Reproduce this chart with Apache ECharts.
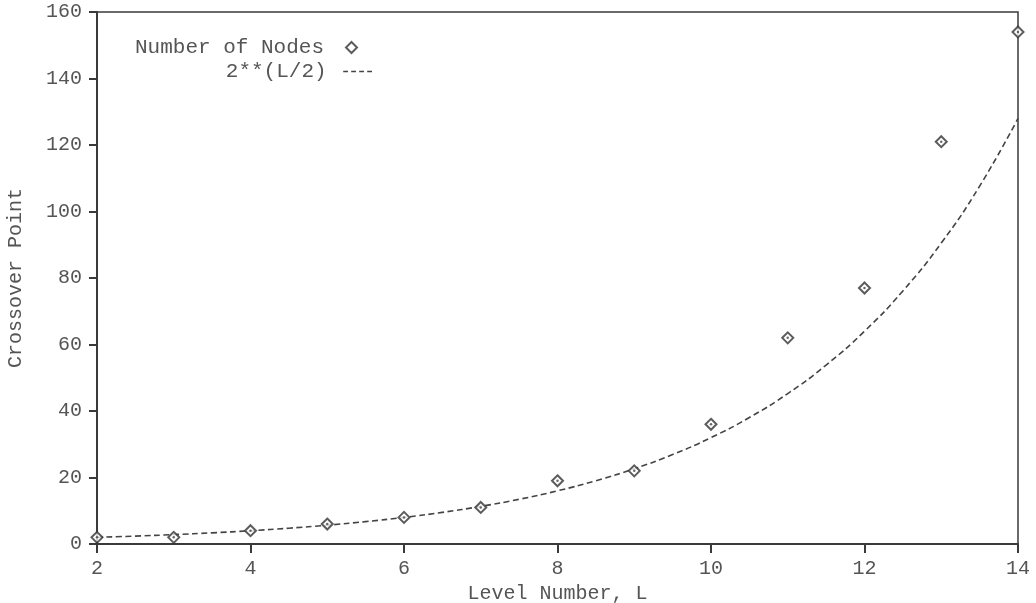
<!DOCTYPE html>
<html>
<head>
<meta charset="utf-8">
<script src="https://cdn.jsdelivr.net/npm/echarts@6/dist/echarts.min.js"></script>
<style>
html,body{margin:0;padding:0;background:#fff;}
#chart{width:1036px;height:603px;}
</style>
</head>
<body>
<div id="chart"></div>
<script>
// Level numbers and measured crossover points (Number of Nodes)
var levels = [2, 3, 4, 5, 6, 7, 8, 9, 10, 11, 12, 13, 14];
var nodes  = [2, 2, 4, 6, 8, 11, 19, 22, 36, 62, 77, 121, 154];
// Reference curve 2**(L/2), read at half-level steps
var curveL = [2, 2.5, 3, 3.5, 4, 4.5, 5, 5.5, 6, 6.5, 7, 7.5, 8, 8.5, 9, 9.5, 10, 10.5, 11, 11.5, 12, 12.5, 13, 13.5, 14];
var curveV = [2, 2.38, 2.83, 3.36, 4, 4.76, 5.66, 6.73, 8, 9.51, 11.31, 13.45, 16, 19.03, 22.63, 26.91, 32, 38.05, 45.25, 53.82, 64, 76.11, 90.51, 107.63, 128];
var xTicks = [2, 4, 6, 8, 10, 12, 14];
var yTicks = [0, 20, 40, 60, 80, 100, 120, 140, 160];

var FONT = 'Liberation Mono';
var TXT = '#555';
var AX = '#3a3a3a';

var nodePts = levels.map(function (l, i) { return [l, nodes[i]]; });
var curvePts = curveL.map(function (l, i) { return [l, curveV[i]]; });

var chart = echarts.init(document.getElementById('chart'), null, {renderer: 'canvas'});
chart.setOption({
  animation: false,
  backgroundColor: '#fff',
  textStyle: {fontFamily: FONT, color: TXT},
  grid: {left: 97, right: 18, top: 12, bottom: 59, outerBoundsMode: 'none', containLabel: false,
         show: true, borderColor: AX, borderWidth: 1.5, backgroundColor: 'transparent'},
  legend: [
    {
      data: [{name: 'Number of Nodes', icon: 'emptyDiamond'}], orient: 'vertical', align: 'right',
      right: 678, top: 37, padding: 0,
      itemWidth: 11, itemHeight: 11,
      itemStyle: {color: '#333', borderColor: '#333', borderWidth: 1.6},
      textStyle: {fontFamily: FONT, fontSize: 21, color: TXT, padding: [0, 17, 0, 0]}
    },
    {
      data: [{name: '2**(L/2)', icon: 'path://M0,0h6v2h-6z M10,0h6v2h-6z M20,0h6v2h-6z M30,0h6v2h-6z'}],
      orient: 'vertical', align: 'right',
      right: 664, top: 61, padding: 0,
      itemWidth: 36, itemHeight: 1.6,
      itemStyle: {color: '#444', borderWidth: 0},
      textStyle: {fontFamily: FONT, fontSize: 21, color: TXT, padding: [0, 8, 0, 0]}
    }
  ],
  xAxis: {
    type: 'value', min: xTicks[0], max: xTicks[xTicks.length - 1], interval: 2,
    name: 'Level Number, L', nameLocation: 'middle', nameGap: 37,
    nameTextStyle: {fontFamily: FONT, fontSize: 20, color: TXT},
    axisLine: {show: true, lineStyle: {color: AX, width: 2}},
    axisTick: {show: true, length: 9, lineStyle: {color: AX, width: 2}},
    axisLabel: {fontFamily: FONT, fontSize: 20, color: TXT, margin: 15},
    splitLine: {show: false}
  },
  yAxis: {
    type: 'value', min: yTicks[0], max: yTicks[yTicks.length - 1], interval: 20,
    name: 'Crossover Point', nameLocation: 'middle', nameGap: 71,
    nameTextStyle: {fontFamily: FONT, fontSize: 20, color: TXT},
    axisLine: {show: true, lineStyle: {color: AX, width: 2}},
    axisTick: {show: true, length: 8, lineStyle: {color: AX, width: 2}},
    axisLabel: {fontFamily: FONT, fontSize: 20, color: TXT, margin: 15},
    splitLine: {show: false}
  },
  series: [
    {
      name: '2**(L/2)', type: 'line', data: curvePts, smooth: true,
      symbol: 'none', z: 2,
      lineStyle: {color: '#444', width: 1.6, type: [6, 3.5]},
      itemStyle: {color: '#444'}
    },
    {
      name: 'Number of Nodes', type: 'scatter', data: nodePts,
      symbol: 'emptyDiamond', symbolSize: 11, z: 3,
      itemStyle: {color: '#333', borderColor: '#333', borderWidth: 1.6}
    },
    {
      name: 'dot', type: 'scatter', data: nodePts, silent: true,
      symbol: 'circle', symbolSize: 2.5, z: 4,
      itemStyle: {color: '#444'}
    }
  ]
});
</script>
</body>
</html>
